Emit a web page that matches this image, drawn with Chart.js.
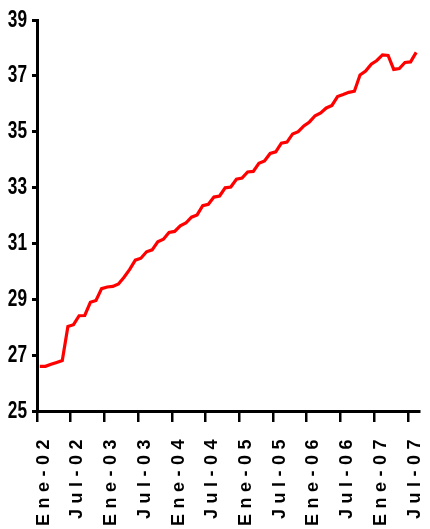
<!DOCTYPE html>
<html><head><meta charset="utf-8">
<script src="https://cdn.jsdelivr.net/npm/chart.js@4/dist/chart.umd.min.js"></script>
<style>html,body{margin:0;padding:0;background:#fff;}#wrap{width:430px;height:529px;}</style>
</head><body><div id="wrap"><canvas id="c" width="430" height="529"></canvas></div>
<script>
const categories = [
 'Ene-02','Feb-02','Mar-02','Abr-02','May-02','Jun-02','Jul-02','Ago-02','Sep-02','Oct-02','Nov-02','Dic-02',
 'Ene-03','Feb-03','Mar-03','Abr-03','May-03','Jun-03','Jul-03','Ago-03','Sep-03','Oct-03','Nov-03','Dic-03',
 'Ene-04','Feb-04','Mar-04','Abr-04','May-04','Jun-04','Jul-04','Ago-04','Sep-04','Oct-04','Nov-04','Dic-04',
 'Ene-05','Feb-05','Mar-05','Abr-05','May-05','Jun-05','Jul-05','Ago-05','Sep-05','Oct-05','Nov-05','Dic-05',
 'Ene-06','Feb-06','Mar-06','Abr-06','May-06','Jun-06','Jul-06','Ago-06','Sep-06','Oct-06','Nov-06','Dic-06',
 'Ene-07','Feb-07','Mar-07','Abr-07','May-07','Jun-07','Jul-07','Ago-07'
];
const values = [
 26.60,26.60,26.67,26.74,26.81,28.03,28.09,28.41,28.42,28.89,28.96,29.38,
 29.44,29.46,29.55,29.79,30.07,30.40,30.47,30.70,30.77,31.06,31.15,31.39,
 31.43,31.63,31.73,31.94,32.02,32.35,32.40,32.66,32.70,32.99,33.02,33.30,
 33.34,33.56,33.58,33.87,33.95,34.22,34.28,34.59,34.63,34.92,35.00,35.21,
 35.35,35.57,35.67,35.85,35.94,36.26,36.33,36.41,36.45,37.03,37.17,37.42,
 37.55,37.75,37.73,37.23,37.26,37.48,37.50,37.84
];
const shownLabels = ['Ene-02','Jul-02','Ene-03','Jul-03','Ene-04','Jul-04','Ene-05','Jul-05','Ene-06','Jul-06','Ene-07','Jul-07'];
const yTicks = [25,27,29,31,33,35,37,39];

const stylePlugin = {
  id: 'styleLabels',
  beforeDraw(chart) {
    const ctx = chart.ctx;
    const xs = chart.scales.x, ys = chart.scales.y;
    if (!xs._patched) {
      const ox = xs.drawLabels;
      xs.drawLabels = function(area){ ctx.save(); ctx.letterSpacing = '5.5px'; ox.call(this, area); ctx.restore(); };
      xs._patched = true;
    }
    if (!ys._patched) {
      const oy = ys.drawLabels;
      ys.drawLabels = function(area){ ctx.save(); const ax = 27; ctx.translate(ax,0); ctx.scale(0.72,1); ctx.translate(-ax,0); oy.call(this, area); ctx.restore(); };
      ys._patched = true;
    }
  }
};

new Chart(document.getElementById('c'), {
  type: 'line',
  data: { labels: categories, datasets: [{ data: values, borderColor: '#FF0000', borderWidth: 3.2, pointRadius: 0, tension: 0, fill: false }] },
  options: {
    responsive: false, animation: false,
    layout: { padding: { top: 20, right: 11, left: 0, bottom: 0 } },
    plugins: { legend: { display: false }, tooltip: { enabled: false } },
    scales: {
      x: {
        type: 'category', offset: true,
        grid: { offset: true, drawOnChartArea: false, drawTicks: true, tickLength: 11, lineWidth: 2.5,
          color: (c) => (c.index !== undefined && c.type === 'tick' && c.index % 6 === 0) ? '#000' : 'rgba(0,0,0,0)' },
        border: { display: true, color: '#000', width: 3 },
        ticks: { autoSkip: false, maxRotation: 90, minRotation: 90, padding: 12, labelOffset: 4, color: '#000',
          font: { family: 'Liberation Sans', size: 18, weight: 'bold' },
          callback: function(v, i) { const l = this.getLabelForValue(v); return shownLabels.includes(l) ? l : ''; } },
        afterFit: (s) => { s.height = 118; s.paddingRight = 0; s.paddingLeft = 0; }
      },
      y: {
        min: yTicks[0], max: yTicks[yTicks.length-1],
        afterBuildTicks: (s) => { s.ticks = yTicks.map(v => ({ value: v })); },
        grid: { drawOnChartArea: false, drawTicks: true, tickLength: 5, lineWidth: 3, color: '#000' },
        border: { display: true, color: '#000', width: 3 },
        ticks: { padding: 5, color: '#000', font: { family: 'Liberation Sans', size: 24, weight: 'bold' } },
        afterFit: (s) => { s.width = 37; s.paddingTop = 0; s.paddingBottom = 0; }
      }
    }
  },
  plugins: [stylePlugin]
});
</script></body></html>
